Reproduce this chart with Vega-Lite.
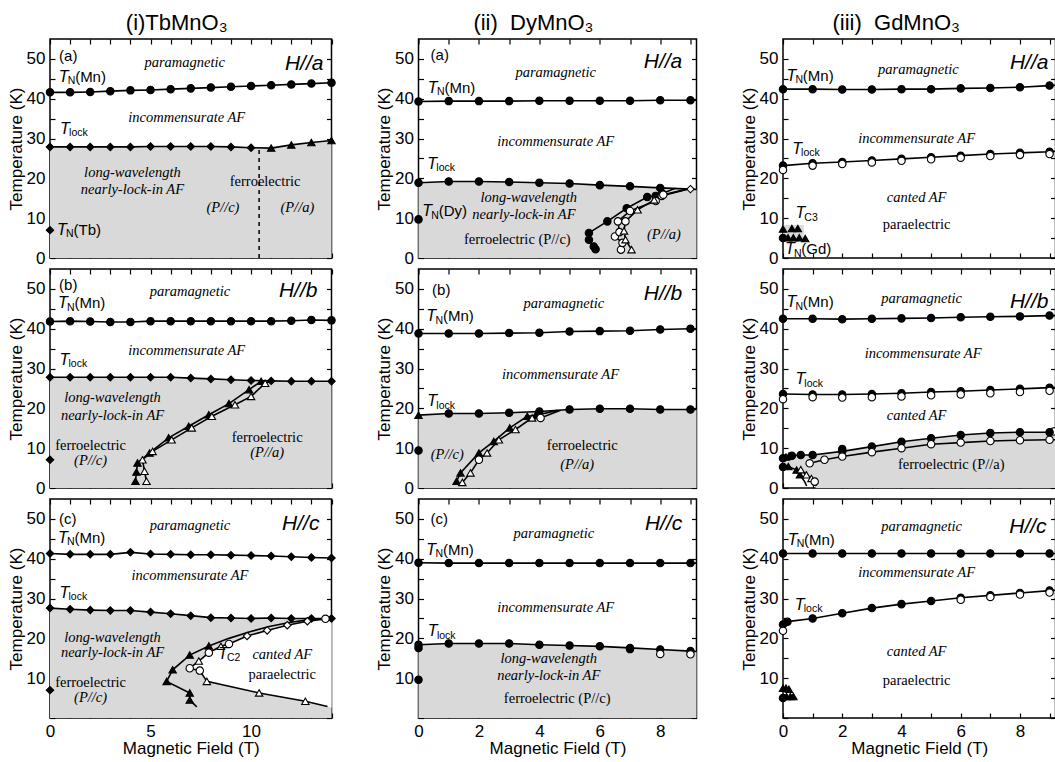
{
"$schema":"https://vega.github.io/schema/vega-lite/v6.json",
"padding":{"left":6,"top":11,"right":0,"bottom":0},
"background":"white",
"datasets":{
"L":[
{"p":"Ta","s":"TN","x":0,"y":41.6,"m":"c"},{"p":"Ta","s":"TN","x":1,"y":41.6,"m":"c"},{"p":"Ta","s":"TN","x":2,"y":41.7,"m":"c"},{"p":"Ta","s":"TN","x":3,"y":41.9,"m":"c"},{"p":"Ta","s":"TN","x":4,"y":42.1,"m":"c"},{"p":"Ta","s":"TN","x":5,"y":42.2,"m":"c"},{"p":"Ta","s":"TN","x":6,"y":42.4,"m":"c"},{"p":"Ta","s":"TN","x":7,"y":42.6,"m":"c"},{"p":"Ta","s":"TN","x":8,"y":42.8,"m":"c"},{"p":"Ta","s":"TN","x":9,"y":43.0,"m":"c"},{"p":"Ta","s":"TN","x":10,"y":43.2,"m":"c"},{"p":"Ta","s":"TN","x":11,"y":43.4,"m":"c"},{"p":"Ta","s":"TN","x":12,"y":43.6,"m":"c"},{"p":"Ta","s":"TN","x":13,"y":43.8,"m":"c"},{"p":"Ta","s":"TN","x":14,"y":44.0,"m":"c"},
{"p":"Ta","s":"TL","x":0,"y":27.9,"m":"d"},{"p":"Ta","s":"TL","x":1,"y":27.9,"m":"d"},{"p":"Ta","s":"TL","x":2,"y":27.9,"m":"d"},{"p":"Ta","s":"TL","x":3,"y":27.9,"m":"d"},{"p":"Ta","s":"TL","x":4,"y":27.9,"m":"d"},{"p":"Ta","s":"TL","x":5,"y":28.0,"m":"d"},{"p":"Ta","s":"TL","x":6,"y":28.0,"m":"d"},{"p":"Ta","s":"TL","x":7,"y":28.0,"m":"d"},{"p":"Ta","s":"TL","x":8,"y":28.0,"m":"d"},{"p":"Ta","s":"TL","x":9,"y":27.9,"m":"d"},{"p":"Ta","s":"TL","x":10,"y":27.7,"m":"d"},{"p":"Ta","s":"TL","x":11,"y":27.6,"m":"t"},{"p":"Ta","s":"TL","x":12,"y":28.4,"m":"t"},{"p":"Ta","s":"TL","x":13,"y":29.0,"m":"t"},{"p":"Ta","s":"TL","x":14,"y":29.5,"m":"t"},
{"p":"Ta","s":"pt","x":0,"y":7.0,"m":"d"},
{"p":"Tb","s":"TN","x":0,"y":41.8,"m":"c"},{"p":"Tb","s":"TN","x":1,"y":41.9,"m":"c"},{"p":"Tb","s":"TN","x":2,"y":41.8,"m":"c"},{"p":"Tb","s":"TN","x":3,"y":41.7,"m":"c"},{"p":"Tb","s":"TN","x":4,"y":41.7,"m":"c"},{"p":"Tb","s":"TN","x":5,"y":41.9,"m":"c"},{"p":"Tb","s":"TN","x":6,"y":41.9,"m":"c"},{"p":"Tb","s":"TN","x":7,"y":41.9,"m":"c"},{"p":"Tb","s":"TN","x":8,"y":41.9,"m":"c"},{"p":"Tb","s":"TN","x":9,"y":41.9,"m":"c"},{"p":"Tb","s":"TN","x":10,"y":41.9,"m":"c"},{"p":"Tb","s":"TN","x":11,"y":41.9,"m":"c"},{"p":"Tb","s":"TN","x":12,"y":42.0,"m":"c"},{"p":"Tb","s":"TN","x":13,"y":42.2,"m":"c"},{"p":"Tb","s":"TN","x":14,"y":42.1,"m":"c"},
{"p":"Tb","s":"TL","x":0,"y":27.8,"m":"d"},{"p":"Tb","s":"TL","x":1,"y":27.8,"m":"d"},{"p":"Tb","s":"TL","x":2,"y":27.8,"m":"d"},{"p":"Tb","s":"TL","x":3,"y":27.8,"m":"d"},{"p":"Tb","s":"TL","x":4,"y":27.8,"m":"d"},{"p":"Tb","s":"TL","x":5,"y":27.8,"m":"d"},{"p":"Tb","s":"TL","x":6,"y":27.8,"m":"d"},{"p":"Tb","s":"TL","x":7,"y":27.6,"m":"d"},{"p":"Tb","s":"TL","x":8,"y":27.4,"m":"d"},{"p":"Tb","s":"TL","x":9,"y":27.2,"m":"d"},{"p":"Tb","s":"TL","x":10,"y":27.0,"m":"d"},{"p":"Tb","s":"TL","x":11,"y":26.9,"m":"d"},{"p":"Tb","s":"TL","x":12,"y":26.8,"m":"d"},{"p":"Tb","s":"TL","x":13,"y":26.8,"m":"d"},{"p":"Tb","s":"TL","x":14,"y":26.8,"m":"d"},
{"p":"Tb","s":"pt","x":0,"y":7.1,"m":"d"},
{"p":"Tb","s":"f1","x":4.25,"y":1.7,"m":"t"},{"p":"Tb","s":"f1","x":4.3,"y":4.0,"m":"t"},{"p":"Tb","s":"f1","x":4.35,"y":6.3,"m":"t"},{"p":"Tb","s":"f1","x":4.95,"y":8.8,"m":"t"},{"p":"Tb","s":"f1","x":5.9,"y":12.6,"m":"t"},{"p":"Tb","s":"f1","x":6.9,"y":15.5,"m":"t"},{"p":"Tb","s":"f1","x":7.9,"y":18.4,"m":"t"},{"p":"Tb","s":"f1","x":8.9,"y":21.2,"m":"t"},{"p":"Tb","s":"f1","x":9.9,"y":24.7,"m":"t"},{"p":"Tb","s":"f1","x":10.5,"y":26.8,"m":"t"},
{"p":"Tb","s":"f2","x":4.8,"y":1.7,"m":"ot"},{"p":"Tb","s":"f2","x":4.7,"y":4.2,"m":"ot"},{"p":"Tb","s":"f2","x":4.6,"y":7.1,"m":"ot"},{"p":"Tb","s":"f2","x":5.1,"y":9.2,"m":"ot"},{"p":"Tb","s":"f2","x":6.05,"y":12.1,"m":"ot"},{"p":"Tb","s":"f2","x":7.05,"y":15.1,"m":"ot"},{"p":"Tb","s":"f2","x":8.05,"y":18.0,"m":"ot"},{"p":"Tb","s":"f2","x":9.2,"y":20.9,"m":"ot"},{"p":"Tb","s":"f2","x":10.0,"y":23.0,"m":"ot"},{"p":"Tb","s":"f2","x":10.7,"y":26.3,"m":"ot"},{"p":"Tb","s":"f2","x":11.0,"y":26.9,"m":"n"},
{"p":"Tc","s":"TN","x":0,"y":41.3,"m":"d"},{"p":"Tc","s":"TN","x":1,"y":41.1,"m":"d"},{"p":"Tc","s":"TN","x":2,"y":41.1,"m":"d"},{"p":"Tc","s":"TN","x":3,"y":41.1,"m":"d"},{"p":"Tc","s":"TN","x":4,"y":41.6,"m":"d"},{"p":"Tc","s":"TN","x":5,"y":41.2,"m":"d"},{"p":"Tc","s":"TN","x":6,"y":41.1,"m":"d"},{"p":"Tc","s":"TN","x":7,"y":41.0,"m":"d"},{"p":"Tc","s":"TN","x":8,"y":41.0,"m":"d"},{"p":"Tc","s":"TN","x":9,"y":40.9,"m":"d"},{"p":"Tc","s":"TN","x":10,"y":40.8,"m":"d"},{"p":"Tc","s":"TN","x":11,"y":40.7,"m":"d"},{"p":"Tc","s":"TN","x":12,"y":40.5,"m":"d"},{"p":"Tc","s":"TN","x":13,"y":40.3,"m":"d"},{"p":"Tc","s":"TN","x":14,"y":40.2,"m":"d"},
{"p":"Tc","s":"TL","x":0,"y":27.6,"m":"d"},{"p":"Tc","s":"TL","x":1,"y":27.3,"m":"d"},{"p":"Tc","s":"TL","x":2,"y":27.1,"m":"d"},{"p":"Tc","s":"TL","x":3,"y":27.0,"m":"d"},{"p":"Tc","s":"TL","x":4,"y":27.0,"m":"d"},{"p":"Tc","s":"TL","x":5,"y":26.6,"m":"d"},{"p":"Tc","s":"TL","x":6,"y":26.2,"m":"d"},{"p":"Tc","s":"TL","x":7,"y":25.7,"m":"d"},{"p":"Tc","s":"TL","x":8,"y":25.2,"m":"d"},{"p":"Tc","s":"TL","x":9,"y":25.1,"m":"d"},{"p":"Tc","s":"TL","x":10,"y":25.0,"m":"d"},{"p":"Tc","s":"TL","x":11,"y":25.1,"m":"d"},{"p":"Tc","s":"TL","x":12,"y":25.0,"m":"d"},{"p":"Tc","s":"TL","x":13,"y":25.0,"m":"d"},{"p":"Tc","s":"TL","x":14,"y":25.0,"m":"d"},
{"p":"Tc","s":"pt","x":0,"y":7.0,"m":"d"},
{"p":"Tc","s":"c1","x":7.3,"y":2.8,"m":"n"},{"p":"Tc","s":"c1","x":6.95,"y":4.5,"m":"t"},{"p":"Tc","s":"c1","x":6.95,"y":6.3,"m":"t"},{"p":"Tc","s":"c1","x":5.8,"y":9.2,"m":"t"},{"p":"Tc","s":"c1","x":6.1,"y":12.1,"m":"t"},{"p":"Tc","s":"c1","x":6.95,"y":15.8,"m":"t"},{"p":"Tc","s":"c1","x":7.9,"y":18.1,"m":"t"},{"p":"Tc","s":"c1","x":8.9,"y":20.0,"m":"n"},{"p":"Tc","s":"c1","x":9.9,"y":21.6,"m":"n"},{"p":"Tc","s":"c1","x":10.9,"y":23.0,"m":"n"},{"p":"Tc","s":"c1","x":11.9,"y":24.0,"m":"n"},{"p":"Tc","s":"c1","x":12.9,"y":24.7,"m":"n"},{"p":"Tc","s":"c1","x":14,"y":25.1,"m":"n"},
{"p":"Tc","s":"c2","x":13.7,"y":24.9,"m":"oc"},{"p":"Tc","s":"c2","x":12.8,"y":24.3,"m":"od"},{"p":"Tc","s":"c2","x":11.8,"y":23.3,"m":"od"},{"p":"Tc","s":"c2","x":10.8,"y":22.0,"m":"od"},{"p":"Tc","s":"c2","x":9.8,"y":20.6,"m":"od"},{"p":"Tc","s":"c2","x":8.9,"y":18.6,"m":"oc"},{"p":"Tc","s":"c2","x":8.5,"y":18.0,"m":"ot"},{"p":"Tc","s":"c2","x":7.9,"y":16.4,"m":"oc"},{"p":"Tc","s":"c2","x":7.4,"y":14.3,"m":"ot"},{"p":"Tc","s":"c2","x":6.95,"y":12.5,"m":"oc"},{"p":"Tc","s":"c2","x":7.45,"y":11.9,"m":"oc"},{"p":"Tc","s":"c2","x":7.8,"y":9.2,"m":"ot"},{"p":"Tc","s":"c2","x":10.4,"y":6.3,"m":"ot"},{"p":"Tc","s":"c2","x":12.7,"y":4.2,"m":"ot"},{"p":"Tc","s":"c2","x":13.8,"y":2.9,"m":"n"},
{"p":"Da","s":"TN","x":0,"y":39.3,"m":"c"},{"p":"Da","s":"TN","x":1,"y":39.4,"m":"c"},{"p":"Da","s":"TN","x":2,"y":39.4,"m":"c"},{"p":"Da","s":"TN","x":3,"y":39.4,"m":"c"},{"p":"Da","s":"TN","x":4,"y":39.5,"m":"c"},{"p":"Da","s":"TN","x":5,"y":39.5,"m":"c"},{"p":"Da","s":"TN","x":6,"y":39.5,"m":"c"},{"p":"Da","s":"TN","x":7,"y":39.5,"m":"c"},{"p":"Da","s":"TN","x":8,"y":39.6,"m":"c"},{"p":"Da","s":"TN","x":9,"y":39.6,"m":"c"},{"p":"Da","s":"TN","x":9.2,"y":39.6,"m":"n"},
{"p":"Da","s":"TL","x":0,"y":18.9,"m":"c"},{"p":"Da","s":"TL","x":1,"y":19.2,"m":"c"},{"p":"Da","s":"TL","x":2,"y":19.2,"m":"c"},{"p":"Da","s":"TL","x":3,"y":19.1,"m":"c"},{"p":"Da","s":"TL","x":4,"y":18.9,"m":"c"},{"p":"Da","s":"TL","x":5,"y":18.7,"m":"c"},{"p":"Da","s":"TL","x":6,"y":18.3,"m":"c"},{"p":"Da","s":"TL","x":7,"y":18.0,"m":"c"},{"p":"Da","s":"TL","x":8,"y":17.6,"m":"c"},{"p":"Da","s":"TL","x":9,"y":17.3,"m":"od"},{"p":"Da","s":"TL","x":9.2,"y":17.2,"m":"n"},
{"p":"Da","s":"pt","x":0,"y":9.7,"m":"c"},
{"p":"Da","s":"f1","x":5.86,"y":2.2,"m":"c"},{"p":"Da","s":"f1","x":5.8,"y":2.9,"m":"c"},{"p":"Da","s":"f1","x":5.64,"y":4.6,"m":"c"},{"p":"Da","s":"f1","x":5.64,"y":6.3,"m":"c"},{"p":"Da","s":"f1","x":6.25,"y":9.2,"m":"c"},{"p":"Da","s":"f1","x":6.89,"y":12.5,"m":"c"},{"p":"Da","s":"f1","x":7.57,"y":15.3,"m":"c"},{"p":"Da","s":"f1","x":7.85,"y":15.6,"m":"c"},{"p":"Da","s":"f1","x":8.07,"y":16.2,"m":"c"},{"p":"Da","s":"f1","x":8.5,"y":17.5,"m":"n"},
{"p":"Da","s":"o1","x":6.7,"y":2.1,"m":"oc"},{"p":"Da","s":"o1","x":6.75,"y":3.8,"m":"oc"},{"p":"Da","s":"o1","x":6.5,"y":5.4,"m":"oc"},{"p":"Da","s":"o1","x":6.65,"y":6.5,"m":"oc"},{"p":"Da","s":"o1","x":6.6,"y":9.2,"m":"oc"},{"p":"Da","s":"o1","x":7.0,"y":11.8,"m":"oc"},{"p":"Da","s":"o1","x":7.85,"y":14.3,"m":"oc"},{"p":"Da","s":"o1","x":8.05,"y":15.6,"m":"oc"},{"p":"Da","s":"o1","x":8.9,"y":17.3,"m":"n"},
{"p":"Da","s":"o2","x":7.05,"y":2.1,"m":"ot"},{"p":"Da","s":"o2","x":6.85,"y":4.6,"m":"ot"},{"p":"Da","s":"o2","x":6.8,"y":6.8,"m":"ot"},{"p":"Da","s":"o2","x":6.85,"y":9.2,"m":"oc"},{"p":"Da","s":"o2","x":7.25,"y":12.1,"m":"ot"},{"p":"Da","s":"o2","x":7.8,"y":14.6,"m":"ot"},{"p":"Da","s":"o2","x":8.1,"y":15.9,"m":"oc"},{"p":"Da","s":"o2","x":8.9,"y":17.3,"m":"n"},
{"p":"Db","s":"TN","x":0,"y":38.8,"m":"c"},{"p":"Db","s":"TN","x":1,"y":38.8,"m":"c"},{"p":"Db","s":"TN","x":2,"y":38.8,"m":"c"},{"p":"Db","s":"TN","x":3,"y":38.9,"m":"c"},{"p":"Db","s":"TN","x":4,"y":39.0,"m":"c"},{"p":"Db","s":"TN","x":5,"y":39.3,"m":"c"},{"p":"Db","s":"TN","x":6,"y":39.4,"m":"c"},{"p":"Db","s":"TN","x":7,"y":39.5,"m":"c"},{"p":"Db","s":"TN","x":8,"y":39.8,"m":"c"},{"p":"Db","s":"TN","x":9,"y":40.0,"m":"c"},{"p":"Db","s":"TN","x":9.2,"y":40.0,"m":"n"},
{"p":"Db","s":"TL","x":0,"y":18.3,"m":"t"},{"p":"Db","s":"TL","x":1,"y":18.7,"m":"c"},{"p":"Db","s":"TL","x":2,"y":18.7,"m":"c"},{"p":"Db","s":"TL","x":3,"y":18.9,"m":"c"},{"p":"Db","s":"TL","x":4,"y":19.2,"m":"c"},{"p":"Db","s":"TL","x":5,"y":19.7,"m":"c"},{"p":"Db","s":"TL","x":6,"y":19.9,"m":"c"},{"p":"Db","s":"TL","x":7,"y":19.9,"m":"c"},{"p":"Db","s":"TL","x":8,"y":19.7,"m":"c"},{"p":"Db","s":"TL","x":9,"y":19.7,"m":"c"},{"p":"Db","s":"TL","x":9.2,"y":19.7,"m":"n"},
{"p":"Db","s":"pt","x":0,"y":9.4,"m":"c"},
{"p":"Db","s":"f1","x":1.26,"y":1.7,"m":"t"},{"p":"Db","s":"f1","x":1.39,"y":3.8,"m":"t"},{"p":"Db","s":"f1","x":2.0,"y":8.8,"m":"t"},{"p":"Db","s":"f1","x":2.49,"y":11.7,"m":"t"},{"p":"Db","s":"f1","x":3.02,"y":15.1,"m":"t"},{"p":"Db","s":"f1","x":3.6,"y":18.0,"m":"t"},{"p":"Db","s":"f1","x":3.87,"y":18.2,"m":"t"},{"p":"Db","s":"f1","x":4.6,"y":19.5,"m":"n"},
{"p":"Db","s":"o1","x":1.45,"y":1.4,"m":"ot"},{"p":"Db","s":"o1","x":1.72,"y":3.8,"m":"ot"},{"p":"Db","s":"o1","x":2.0,"y":7.1,"m":"oc"},{"p":"Db","s":"o1","x":2.27,"y":8.8,"m":"ot"},{"p":"Db","s":"o1","x":2.66,"y":12.1,"m":"ot"},{"p":"Db","s":"o1","x":3.21,"y":14.7,"m":"ot"},{"p":"Db","s":"o1","x":3.76,"y":17.6,"m":"ot"},{"p":"Db","s":"o1","x":4.04,"y":17.6,"m":"oc"},{"p":"Db","s":"o1","x":4.7,"y":19.5,"m":"n"},
{"p":"Dc","s":"TN","x":0,"y":39.0,"m":"c"},{"p":"Dc","s":"TN","x":1,"y":38.9,"m":"c"},{"p":"Dc","s":"TN","x":2,"y":38.9,"m":"c"},{"p":"Dc","s":"TN","x":3,"y":38.9,"m":"c"},{"p":"Dc","s":"TN","x":4,"y":38.9,"m":"c"},{"p":"Dc","s":"TN","x":5,"y":38.9,"m":"c"},{"p":"Dc","s":"TN","x":6,"y":38.9,"m":"c"},{"p":"Dc","s":"TN","x":7,"y":38.9,"m":"c"},{"p":"Dc","s":"TN","x":8,"y":38.9,"m":"c"},{"p":"Dc","s":"TN","x":9,"y":38.9,"m":"c"},{"p":"Dc","s":"TN","x":9.2,"y":38.9,"m":"n"},
{"p":"Dc","s":"TL","x":0,"y":18.4,"m":"c"},{"p":"Dc","s":"TL","x":1,"y":18.7,"m":"c"},{"p":"Dc","s":"TL","x":2,"y":18.7,"m":"c"},{"p":"Dc","s":"TL","x":3,"y":18.7,"m":"c"},{"p":"Dc","s":"TL","x":4,"y":18.4,"m":"c"},{"p":"Dc","s":"TL","x":5,"y":18.2,"m":"c"},{"p":"Dc","s":"TL","x":6,"y":18.0,"m":"c"},{"p":"Dc","s":"TL","x":7,"y":17.6,"m":"c"},{"p":"Dc","s":"TL","x":8,"y":17.2,"m":"c"},{"p":"Dc","s":"TL","x":9,"y":16.8,"m":"c"},{"p":"Dc","s":"TL","x":9.2,"y":16.7,"m":"n"},
{"p":"Dc","s":"pt","x":0,"y":9.6,"m":"c"},{"p":"Dc","s":"pt","x":0,"y":17.6,"m":"c"},{"p":"Dc","s":"pt","x":8,"y":16.1,"m":"oc"},{"p":"Dc","s":"pt","x":9,"y":16.0,"m":"oc"},{"p":"Dc","s":"pt","x":7,"y":17.3,"m":"c"},
{"p":"Ga","s":"TN","x":0,"y":42.4,"m":"c"},{"p":"Ga","s":"TN","x":1,"y":42.4,"m":"c"},{"p":"Ga","s":"TN","x":2,"y":42.3,"m":"c"},{"p":"Ga","s":"TN","x":3,"y":42.3,"m":"c"},{"p":"Ga","s":"TN","x":4,"y":42.4,"m":"c"},{"p":"Ga","s":"TN","x":5,"y":42.4,"m":"c"},{"p":"Ga","s":"TN","x":6,"y":42.6,"m":"c"},{"p":"Ga","s":"TN","x":7,"y":42.7,"m":"c"},{"p":"Ga","s":"TN","x":8,"y":42.9,"m":"c"},{"p":"Ga","s":"TN","x":9,"y":43.3,"m":"c"},{"p":"Ga","s":"TN","x":9.2,"y":43.4,"m":"n"},
{"p":"Ga","s":"TL","x":0,"y":23.2,"m":"c"},{"p":"Ga","s":"TL","x":1,"y":23.8,"m":"c"},{"p":"Ga","s":"TL","x":2,"y":24.1,"m":"c"},{"p":"Ga","s":"TL","x":3,"y":24.5,"m":"c"},{"p":"Ga","s":"TL","x":4,"y":24.9,"m":"c"},{"p":"Ga","s":"TL","x":5,"y":25.3,"m":"c"},{"p":"Ga","s":"TL","x":6,"y":25.7,"m":"c"},{"p":"Ga","s":"TL","x":7,"y":26.1,"m":"c"},{"p":"Ga","s":"TL","x":8,"y":26.4,"m":"c"},{"p":"Ga","s":"TL","x":9,"y":26.7,"m":"c"},{"p":"Ga","s":"TL","x":9.2,"y":26.8,"m":"n"},
{"p":"Ga","s":"pt","x":0,"y":22.1,"m":"oc"},{"p":"Ga","s":"pt","x":1,"y":23.2,"m":"oc"},{"p":"Ga","s":"pt","x":2,"y":23.6,"m":"oc"},{"p":"Ga","s":"pt","x":3,"y":24.0,"m":"oc"},{"p":"Ga","s":"pt","x":4,"y":24.4,"m":"oc"},{"p":"Ga","s":"pt","x":5,"y":24.8,"m":"oc"},{"p":"Ga","s":"pt","x":6,"y":25.2,"m":"oc"},{"p":"Ga","s":"pt","x":7,"y":25.6,"m":"oc"},{"p":"Ga","s":"pt","x":8,"y":25.9,"m":"oc"},{"p":"Ga","s":"pt","x":9,"y":26.1,"m":"oc"},
{"p":"Ga","s":"pt","x":0,"y":7.3,"m":"t"},{"p":"Ga","s":"pt","x":0.3,"y":7.4,"m":"t"},{"p":"Ga","s":"pt","x":0.5,"y":7.4,"m":"t"},{"p":"Ga","s":"pt","x":0,"y":5.0,"m":"c"},{"p":"Ga","s":"pt","x":0.17,"y":5.1,"m":"t"},{"p":"Ga","s":"pt","x":0.35,"y":5.1,"m":"t"},{"p":"Ga","s":"pt","x":0.55,"y":5.1,"m":"t"},{"p":"Ga","s":"pt","x":0.75,"y":4.9,"m":"t"},
{"p":"Gb","s":"TN","x":0,"y":42.5,"m":"c"},{"p":"Gb","s":"TN","x":1,"y":42.5,"m":"c"},{"p":"Gb","s":"TN","x":2,"y":42.4,"m":"c"},{"p":"Gb","s":"TN","x":3,"y":42.5,"m":"c"},{"p":"Gb","s":"TN","x":4,"y":42.6,"m":"c"},{"p":"Gb","s":"TN","x":5,"y":42.7,"m":"c"},{"p":"Gb","s":"TN","x":6,"y":42.9,"m":"c"},{"p":"Gb","s":"TN","x":7,"y":43.0,"m":"c"},{"p":"Gb","s":"TN","x":8,"y":43.1,"m":"c"},{"p":"Gb","s":"TN","x":9,"y":43.3,"m":"c"},{"p":"Gb","s":"TN","x":9.2,"y":43.3,"m":"n"},
{"p":"Gb","s":"TL","x":0,"y":23.6,"m":"c"},{"p":"Gb","s":"TL","x":1,"y":23.5,"m":"c"},{"p":"Gb","s":"TL","x":2,"y":23.5,"m":"c"},{"p":"Gb","s":"TL","x":3,"y":23.6,"m":"c"},{"p":"Gb","s":"TL","x":4,"y":23.8,"m":"c"},{"p":"Gb","s":"TL","x":5,"y":24.1,"m":"c"},{"p":"Gb","s":"TL","x":6,"y":24.3,"m":"c"},{"p":"Gb","s":"TL","x":7,"y":24.6,"m":"c"},{"p":"Gb","s":"TL","x":8,"y":24.9,"m":"c"},{"p":"Gb","s":"TL","x":9,"y":25.2,"m":"c"},{"p":"Gb","s":"TL","x":9.2,"y":25.2,"m":"n"},
{"p":"Gb","s":"pt","x":0,"y":22.3,"m":"oc"},{"p":"Gb","s":"pt","x":1,"y":22.8,"m":"oc"},{"p":"Gb","s":"pt","x":2,"y":22.7,"m":"oc"},{"p":"Gb","s":"pt","x":3,"y":22.8,"m":"oc"},{"p":"Gb","s":"pt","x":4,"y":23.0,"m":"oc"},{"p":"Gb","s":"pt","x":5,"y":23.3,"m":"oc"},{"p":"Gb","s":"pt","x":6,"y":23.5,"m":"oc"},{"p":"Gb","s":"pt","x":7,"y":23.8,"m":"oc"},{"p":"Gb","s":"pt","x":8,"y":24.1,"m":"oc"},{"p":"Gb","s":"pt","x":9,"y":24.4,"m":"oc"},
{"p":"Gb","s":"pt","x":0.1,"y":7.8,"m":"t"},{"p":"Gb","s":"pt","x":0.2,"y":8.0,"m":"t"},{"p":"Gb","s":"pt","x":2.0,"y":9.8,"m":"c"},{"p":"Gb","s":"pt","x":9.15,"y":14.2,"m":"oc"},
{"p":"Gb","s":"u1","x":0,"y":7.5,"m":"c"},{"p":"Gb","s":"u1","x":0.3,"y":8.1,"m":"c"},{"p":"Gb","s":"u1","x":0.6,"y":8.3,"m":"c"},{"p":"Gb","s":"u1","x":1.0,"y":8.3,"m":"c"},{"p":"Gb","s":"u1","x":2.0,"y":9.2,"m":"c"},{"p":"Gb","s":"u1","x":3.0,"y":10.4,"m":"c"},{"p":"Gb","s":"u1","x":4.0,"y":11.6,"m":"c"},{"p":"Gb","s":"u1","x":5.0,"y":12.5,"m":"c"},{"p":"Gb","s":"u1","x":6.0,"y":13.3,"m":"c"},{"p":"Gb","s":"u1","x":7.0,"y":13.8,"m":"c"},{"p":"Gb","s":"u1","x":8.0,"y":14.0,"m":"c"},{"p":"Gb","s":"u1","x":9.0,"y":14.0,"m":"c"},{"p":"Gb","s":"u1","x":9.2,"y":14.0,"m":"n"},
{"p":"Gb","s":"l1","x":0.9,"y":6.2,"m":"oc"},{"p":"Gb","s":"l1","x":1.4,"y":7.1,"m":"oc"},{"p":"Gb","s":"l1","x":2.0,"y":7.9,"m":"oc"},{"p":"Gb","s":"l1","x":3.0,"y":9.0,"m":"oc"},{"p":"Gb","s":"l1","x":4.0,"y":10.0,"m":"oc"},{"p":"Gb","s":"l1","x":5.0,"y":11.0,"m":"oc"},{"p":"Gb","s":"l1","x":6.0,"y":11.4,"m":"oc"},{"p":"Gb","s":"l1","x":7.0,"y":11.8,"m":"oc"},{"p":"Gb","s":"l1","x":8.0,"y":12.0,"m":"oc"},{"p":"Gb","s":"l1","x":9.0,"y":12.1,"m":"oc"},{"p":"Gb","s":"l1","x":9.2,"y":12.1,"m":"n"},
{"p":"Gb","s":"lf1","x":0,"y":5.3,"m":"c"},{"p":"Gb","s":"lf1","x":0.18,"y":5.4,"m":"t"},{"p":"Gb","s":"lf1","x":0.46,"y":4.5,"m":"t"},{"p":"Gb","s":"lf1","x":0.57,"y":3.3,"m":"t"},{"p":"Gb","s":"lf1","x":0.73,"y":1.6,"m":"n"},{"p":"Gb","s":"lf1","x":0.8,"y":0.5,"m":"n"},
{"p":"Gb","s":"lf2","x":0.6,"y":4.6,"m":"ot"},{"p":"Gb","s":"lf2","x":0.79,"y":3.3,"m":"ot"},{"p":"Gb","s":"lf2","x":0.96,"y":2.4,"m":"ot"},{"p":"Gb","s":"lf2","x":1.07,"y":1.6,"m":"oc"},{"p":"Gb","s":"lf2","x":1.12,"y":0.5,"m":"n"},
{"p":"Gc","s":"TN","x":0,"y":41.3,"m":"c"},{"p":"Gc","s":"TN","x":1,"y":41.3,"m":"c"},{"p":"Gc","s":"TN","x":2,"y":41.3,"m":"c"},{"p":"Gc","s":"TN","x":3,"y":41.3,"m":"c"},{"p":"Gc","s":"TN","x":4,"y":41.3,"m":"c"},{"p":"Gc","s":"TN","x":5,"y":41.3,"m":"c"},{"p":"Gc","s":"TN","x":6,"y":41.3,"m":"c"},{"p":"Gc","s":"TN","x":7,"y":41.3,"m":"c"},{"p":"Gc","s":"TN","x":8,"y":41.3,"m":"c"},{"p":"Gc","s":"TN","x":9,"y":41.3,"m":"c"},{"p":"Gc","s":"TN","x":9.2,"y":41.3,"m":"n"},
{"p":"Gc","s":"TL","x":0,"y":23.5,"m":"c"},{"p":"Gc","s":"TL","x":0.15,"y":24.2,"m":"c"},{"p":"Gc","s":"TL","x":1,"y":25.0,"m":"c"},{"p":"Gc","s":"TL","x":2,"y":26.3,"m":"c"},{"p":"Gc","s":"TL","x":3,"y":27.6,"m":"c"},{"p":"Gc","s":"TL","x":4,"y":28.6,"m":"c"},{"p":"Gc","s":"TL","x":5,"y":29.4,"m":"c"},{"p":"Gc","s":"TL","x":6,"y":30.2,"m":"c"},{"p":"Gc","s":"TL","x":7,"y":30.8,"m":"c"},{"p":"Gc","s":"TL","x":8,"y":31.4,"m":"c"},{"p":"Gc","s":"TL","x":9,"y":32.0,"m":"c"},{"p":"Gc","s":"TL","x":9.2,"y":32.1,"m":"n"},
{"p":"Gc","s":"pt","x":0,"y":21.9,"m":"oc"},{"p":"Gc","s":"pt","x":6,"y":29.7,"m":"oc"},{"p":"Gc","s":"pt","x":7,"y":30.4,"m":"oc"},{"p":"Gc","s":"pt","x":8,"y":31.0,"m":"oc"},{"p":"Gc","s":"pt","x":9,"y":31.5,"m":"oc"},
{"p":"Gc","s":"pt","x":0,"y":7.5,"m":"t"},{"p":"Gc","s":"pt","x":0.1,"y":7.5,"m":"t"},{"p":"Gc","s":"pt","x":0.2,"y":7.2,"m":"t"},{"p":"Gc","s":"pt","x":0,"y":5.0,"m":"c"},{"p":"Gc","s":"pt","x":0.12,"y":5.4,"m":"t"},{"p":"Gc","s":"pt","x":0.25,"y":5.4,"m":"t"},{"p":"Gc","s":"pt","x":0.35,"y":5.4,"m":"t"}
],
"A":[
{"p":"Tc","c":"w","x":6.95,"y":12.5,"y2":12.5},{"p":"Tc","c":"w","x":7.4,"y":14.3,"y2":12.0},{"p":"Tc","c":"w","x":7.8,"y":16.0,"y2":9.2},{"p":"Tc","c":"w","x":8.5,"y":18.0,"y2":8.4},{"p":"Tc","c":"w","x":8.9,"y":18.6,"y2":8.0},{"p":"Tc","c":"w","x":9.8,"y":20.6,"y2":7.0},{"p":"Tc","c":"w","x":10.4,"y":21.4,"y2":6.3},{"p":"Tc","c":"w","x":10.8,"y":22.0,"y2":6.0},{"p":"Tc","c":"w","x":11.8,"y":23.3,"y2":5.1},{"p":"Tc","c":"w","x":12.7,"y":24.2,"y2":4.2},{"p":"Tc","c":"w","x":13.7,"y":24.9,"y2":3.0},{"p":"Tc","c":"w","x":14,"y":25.0,"y2":2.6},
{"p":"Ga","c":"g","x":0,"y":8.3,"y2":4.2},{"p":"Ga","c":"g","x":0.7,"y":8.3,"y2":4.2},
{"p":"Gb","c":"g","x":0,"y":7.5,"y2":5.3},{"p":"Gb","c":"g","x":0.3,"y":8.1,"y2":5.1},{"p":"Gb","c":"g","x":0.6,"y":8.3,"y2":4.3},{"p":"Gb","c":"g","x":0.85,"y":8.3,"y2":2.3},{"p":"Gb","c":"g","x":1.12,"y":8.4,"y2":0},{"p":"Gb","c":"g","x":2,"y":9.2,"y2":0},{"p":"Gb","c":"g","x":3,"y":10.4,"y2":0},{"p":"Gb","c":"g","x":4,"y":11.6,"y2":0},{"p":"Gb","c":"g","x":5,"y":12.5,"y2":0},{"p":"Gb","c":"g","x":6,"y":13.3,"y2":0},{"p":"Gb","c":"g","x":7,"y":13.8,"y2":0},{"p":"Gb","c":"g","x":8,"y":14.0,"y2":0},{"p":"Gb","c":"g","x":9,"y":14.0,"y2":0},{"p":"Gb","c":"g","x":9.2,"y":14.0,"y2":0}
],
"R":[{"p":"Ta","x":10.4,"y":0,"y2":27.7}],
"T":[
{"p":"Ta","k":"lab","x":0.45,"y":50.8,"t":"(a)"},{"p":"Ta","k":"ph","x":6.7,"y":49.0,"t":"paramagnetic"},{"p":"Ta","k":"hh","x":13.6,"y":48.7,"t":"H//a"},{"p":"Ta","k":"tt","x":0.43,"y":45.5,"t":"T"},{"p":"Ta","k":"sub","x":0.88,"y":44.4,"t":"N"},{"p":"Ta","k":"lab","x":1.25,"y":45.5,"t":"(Mn)"},{"p":"Ta","k":"ph","x":6.8,"y":35.2,"t":"incommensurate AF"},{"p":"Ta","k":"tt","x":0.5,"y":32.4,"t":"T"},{"p":"Ta","k":"sub","x":0.95,"y":31.3,"t":"lock"},{"p":"Ta","k":"ph","x":4.1,"y":21.4,"t":"long-wavelength"},{"p":"Ta","k":"ph","x":4.1,"y":17.1,"t":"nearly-lock-in AF"},{"p":"Ta","k":"rm","x":10.7,"y":19.1,"t":"ferroelectric"},{"p":"Ta","k":"ph","x":8.6,"y":12.6,"t":"(P//c)"},{"p":"Ta","k":"ph","x":12.3,"y":12.6,"t":"(P//a)"},{"p":"Ta","k":"tt","x":0.35,"y":7.1,"t":"T"},{"p":"Ta","k":"sub","x":0.8,"y":6.0,"t":"N"},{"p":"Ta","k":"lab","x":1.17,"y":7.1,"t":"(Tb)"},
{"p":"Tb","k":"lab","x":0.45,"y":51.0,"t":"(b)"},{"p":"Tb","k":"ph","x":6.96,"y":49.2,"t":"paramagnetic"},{"p":"Tb","k":"hh","x":13.3,"y":49.6,"t":"H//b"},{"p":"Tb","k":"tt","x":0.4,"y":46.4,"t":"T"},{"p":"Tb","k":"sub","x":0.85,"y":45.3,"t":"N"},{"p":"Tb","k":"lab","x":1.22,"y":46.4,"t":"(Mn)"},{"p":"Tb","k":"ph","x":6.8,"y":34.5,"t":"incommensurate AF"},{"p":"Tb","k":"tt","x":0.47,"y":32.2,"t":"T"},{"p":"Tb","k":"sub","x":0.92,"y":31.1,"t":"lock"},{"p":"Tb","k":"ph","x":3.11,"y":22.6,"t":"long-wavelength"},{"p":"Tb","k":"ph","x":3.11,"y":18.2,"t":"nearly-lock-in AF"},{"p":"Tb","k":"rm","x":2.02,"y":10.5,"t":"ferroelectric"},{"p":"Tb","k":"ph","x":2.02,"y":6.7,"t":"(P//c)"},{"p":"Tb","k":"rm","x":10.8,"y":12.6,"t":"ferroelectric"},{"p":"Tb","k":"ph","x":10.8,"y":8.8,"t":"(P//a)"},
{"p":"Tc","k":"lab","x":0.45,"y":50.0,"t":"(c)"},{"p":"Tc","k":"ph","x":6.96,"y":48.2,"t":"paramagnetic"},{"p":"Tc","k":"hh","x":13.4,"y":48.6,"t":"H//c"},{"p":"Tc","k":"tt","x":0.4,"y":45.2,"t":"T"},{"p":"Tc","k":"sub","x":0.85,"y":44.1,"t":"N"},{"p":"Tc","k":"lab","x":1.22,"y":45.2,"t":"(Mn)"},{"p":"Tc","k":"ph","x":6.96,"y":35.6,"t":"incommensurate AF"},{"p":"Tc","k":"tt","x":0.47,"y":31.4,"t":"T"},{"p":"Tc","k":"sub","x":0.92,"y":30.3,"t":"lock"},{"p":"Tc","k":"ph","x":3.11,"y":20.1,"t":"long-wavelength"},{"p":"Tc","k":"ph","x":3.11,"y":16.4,"t":"nearly-lock-in AF"},{"p":"Tc","k":"rm","x":2.02,"y":8.8,"t":"ferroelectric"},{"p":"Tc","k":"ph","x":2.02,"y":5.0,"t":"(P//c)"},{"p":"Tc","k":"ph","x":11.55,"y":15.9,"t":"canted AF"},{"p":"Tc","k":"rm","x":11.55,"y":10.9,"t":"paraelectric"},{"p":"Tc","k":"tt","x":8.35,"y":16.1,"t":"T"},{"p":"Tc","k":"sub","x":8.8,"y":15.0,"t":"C2"},
{"p":"Da","k":"lab","x":0.4,"y":51.0,"t":"(a)"},{"p":"Da","k":"ph","x":4.54,"y":46.4,"t":"paramagnetic"},{"p":"Da","k":"hh","x":8.73,"y":49.1,"t":"H//a"},{"p":"Da","k":"tt","x":0.31,"y":42.8,"t":"T"},{"p":"Da","k":"sub","x":0.61,"y":41.7,"t":"N"},{"p":"Da","k":"lab","x":0.86,"y":42.8,"t":"(Mn)"},{"p":"Da","k":"ph","x":4.54,"y":29.1,"t":"incommensurate AF"},{"p":"Da","k":"tt","x":0.29,"y":23.6,"t":"T"},{"p":"Da","k":"sub","x":0.59,"y":22.5,"t":"lock"},{"p":"Da","k":"ph","x":3.65,"y":15.1,"t":"long-wavelength"},{"p":"Da","k":"ph","x":3.49,"y":10.9,"t":"nearly-lock-in AF"},{"p":"Da","k":"rm","x":3.27,"y":4.6,"t":"ferroelectric (P//c)"},{"p":"Da","k":"ph","x":8.12,"y":5.8,"t":"(P//a)"},{"p":"Da","k":"tt","x":0.12,"y":11.7,"t":"T"},{"p":"Da","k":"sub","x":0.42,"y":10.6,"t":"N"},{"p":"Da","k":"lab","x":0.67,"y":11.7,"t":"(Dy)"},
{"p":"Db","k":"lab","x":0.45,"y":49.8,"t":"(b)"},{"p":"Db","k":"ph","x":4.81,"y":46.1,"t":"paramagnetic"},{"p":"Db","k":"hh","x":8.73,"y":48.6,"t":"H//b"},{"p":"Db","k":"tt","x":0.26,"y":43.1,"t":"T"},{"p":"Db","k":"sub","x":0.56,"y":42.0,"t":"N"},{"p":"Db","k":"lab","x":0.81,"y":43.1,"t":"(Mn)"},{"p":"Db","k":"ph","x":4.7,"y":28.5,"t":"incommensurate AF"},{"p":"Db","k":"tt","x":0.29,"y":21.8,"t":"T"},{"p":"Db","k":"sub","x":0.59,"y":20.7,"t":"lock"},{"p":"Db","k":"rm","x":5.42,"y":10.6,"t":"ferroelectric"},{"p":"Db","k":"ph","x":5.25,"y":5.9,"t":"(P//a)"},{"p":"Db","k":"ph","x":0.95,"y":8.4,"t":"(P//c)"},
{"p":"Dc","k":"lab","x":0.4,"y":50.0,"t":"(c)"},{"p":"Dc","k":"ph","x":4.48,"y":46.1,"t":"paramagnetic"},{"p":"Dc","k":"hh","x":8.73,"y":48.6,"t":"H//c"},{"p":"Dc","k":"tt","x":0.26,"y":42.3,"t":"T"},{"p":"Dc","k":"sub","x":0.56,"y":41.2,"t":"N"},{"p":"Dc","k":"lab","x":0.81,"y":42.3,"t":"(Mn)"},{"p":"Dc","k":"ph","x":4.54,"y":27.6,"t":"incommensurate AF"},{"p":"Dc","k":"tt","x":0.31,"y":21.8,"t":"T"},{"p":"Dc","k":"sub","x":0.61,"y":20.7,"t":"lock"},{"p":"Dc","k":"ph","x":4.31,"y":14.8,"t":"long-wavelength"},{"p":"Dc","k":"ph","x":4.31,"y":10.6,"t":"nearly-lock-in AF"},{"p":"Dc","k":"rm","x":4.59,"y":4.7,"t":"ferroelectric (P//c)"},
{"p":"Ga","k":"ph","x":4.57,"y":47.1,"t":"paramagnetic"},{"p":"Ga","k":"hh","x":8.96,"y":48.9,"t":"H//a"},{"p":"Ga","k":"tt","x":0.12,"y":45.8,"t":"T"},{"p":"Ga","k":"sub","x":0.42,"y":44.7,"t":"N"},{"p":"Ga","k":"lab","x":0.67,"y":45.8,"t":"(Mn)"},{"p":"Ga","k":"ph","x":4.51,"y":29.8,"t":"incommensurate AF"},{"p":"Ga","k":"tt","x":0.31,"y":27.5,"t":"T"},{"p":"Ga","k":"sub","x":0.61,"y":26.4,"t":"lock"},{"p":"Ga","k":"ph","x":4.51,"y":15.0,"t":"canted AF"},{"p":"Ga","k":"rm","x":4.51,"y":8.3,"t":"paraelectric"},{"p":"Ga","k":"tt","x":0.42,"y":11.2,"t":"T"},{"p":"Ga","k":"sub","x":0.72,"y":10.1,"t":"C3"},{"p":"Ga","k":"tt","x":0.07,"y":2.2,"t":"T"},{"p":"Ga","k":"sub","x":0.37,"y":1.1,"t":"N"},{"p":"Ga","k":"lab","x":0.62,"y":2.2,"t":"(Gd)"},
{"p":"Gb","k":"ph","x":4.68,"y":47.5,"t":"paramagnetic"},{"p":"Gb","k":"hh","x":8.96,"y":46.6,"t":"H//b"},{"p":"Gb","k":"tt","x":0.12,"y":46.6,"t":"T"},{"p":"Gb","k":"sub","x":0.42,"y":45.5,"t":"N"},{"p":"Gb","k":"lab","x":0.67,"y":46.6,"t":"(Mn)"},{"p":"Gb","k":"ph","x":4.73,"y":33.6,"t":"incommensurate AF"},{"p":"Gb","k":"tt","x":0.42,"y":27.3,"t":"T"},{"p":"Gb","k":"sub","x":0.72,"y":26.2,"t":"lock"},{"p":"Gb","k":"ph","x":4.51,"y":18.0,"t":"canted AF"},{"p":"Gb","k":"rm","x":5.68,"y":5.8,"t":"ferroelectric (P//a)"},
{"p":"Gc","k":"ph","x":4.68,"y":48.0,"t":"paramagnetic"},{"p":"Gc","k":"hh","x":8.9,"y":48.0,"t":"H//c"},{"p":"Gc","k":"tt","x":0.16,"y":44.7,"t":"T"},{"p":"Gc","k":"sub","x":0.46,"y":43.6,"t":"N"},{"p":"Gc","k":"lab","x":0.71,"y":44.7,"t":"(Mn)"},{"p":"Gc","k":"ph","x":4.51,"y":36.5,"t":"incommensurate AF"},{"p":"Gc","k":"tt","x":0.4,"y":28.4,"t":"T"},{"p":"Gc","k":"sub","x":0.7,"y":27.3,"t":"lock"},{"p":"Gc","k":"ph","x":4.51,"y":16.5,"t":"canted AF"},{"p":"Gc","k":"rm","x":4.51,"y":9.4,"t":"paraelectric"}
]
},
"concat":[
{"width":281.5,"height":219,"title":{"text":"(i)TbMnO₃","dx":-14},
"layer":[
{"data":{"name":"L"},"transform":[{"filter":"datum.p=='Ta'&&datum.s=='TL'"}],"mark":{"type":"area","color":"#d9d9d9","opacity":1},"encoding":{"x":{"field":"x","type":"quantitative","scale":{"domain":[0,14],"nice":false,"zero":false},"axis":null},"y":{"field":"y","type":"quantitative","scale":{"domain":[0,55],"nice":false,"zero":false},"axis":null},"y2":{"datum":0}}},
{"data":{"name":"R"},"transform":[{"filter":"datum.p=='Ta'"}],"mark":{"type":"rule","strokeDash":[4,4],"strokeWidth":1.5,"color":"black"},"encoding":{"x":{"field":"x","type":"quantitative","axis":null},"y":{"field":"y","type":"quantitative","axis":null},"y2":{"field":"y2"}}},
{"data":{"name":"L"},"transform":[{"filter":"datum.p=='Ta'&&datum.s!='pt'"}],"mark":{"type":"line","color":"black","strokeWidth":1.6},"encoding":{"x":{"field":"x","type":"quantitative","scale":{"domain":[0,14],"nice":false,"zero":false},"axis":{"orient":"bottom","values":[0,1,2,3,4,5,6,7,8,9,10,11,12,13,14],"labels":false,"title":null}},"y":{"field":"y","type":"quantitative","scale":{"domain":[0,55],"nice":false,"zero":false},"axis":{"orient":"left","values":[0,5,10,15,20,25,30,35,40,45,50],"labelExpr":"datum.value%10==0?datum.label:''","title":"Temperature (K)"}},"detail":{"field":"s"},"order":{"value":null}}},
{"data":{"name":"L"},"transform":[{"filter":"datum.p=='Ta'&&datum.m!='n'"}],"mark":{"type":"point","filled":true,"stroke":"black","strokeWidth":1.1,"size":55,"opacity":1},"encoding":{"x":{"field":"x","type":"quantitative","scale":{"domain":[0,14],"nice":false,"zero":false},"axis":{"orient":"top","values":[0,1,2,3,4,5,6,7,8,9,10,11,12,13,14],"labels":false,"title":null}},"y":{"field":"y","type":"quantitative","scale":{"domain":[0,55],"nice":false,"zero":false},"axis":{"orient":"right","values":[0,5,10,15,20,25,30,35,40,45,50],"labels":false,"title":null}},"shape":{"field":"m","type":"nominal","scale":{"domain":["c","t","d","oc","ot","od"],"range":["circle","triangle-up","diamond","circle","triangle-up","diamond"]},"legend":null},"fill":{"field":"m","type":"nominal","scale":{"domain":["c","t","d","oc","ot","od"],"range":["#000000","#000000","#000000","#ffffff","#ffffff","#ffffff"]},"legend":null}}},
{"data":{"name":"T"},"transform":[{"filter":"datum.p=='Ta'&&datum.k=='ph'"}],"mark":{"type":"text","font":"Liberation Serif","fontStyle":"italic","fontSize":14.5,"align":"center","baseline":"middle"},"encoding":{"x":{"field":"x","type":"quantitative","axis":null},"y":{"field":"y","type":"quantitative","axis":null},"text":{"field":"t"}}},
{"data":{"name":"T"},"transform":[{"filter":"datum.p=='Ta'&&datum.k=='rm'"}],"mark":{"type":"text","font":"Liberation Serif","fontSize":14.5,"align":"center","baseline":"middle"},"encoding":{"x":{"field":"x","type":"quantitative","axis":null},"y":{"field":"y","type":"quantitative","axis":null},"text":{"field":"t"}}},
{"data":{"name":"T"},"transform":[{"filter":"datum.p=='Ta'&&datum.k=='lab'"}],"mark":{"type":"text","font":"Liberation Sans","fontSize":15,"align":"left","baseline":"middle"},"encoding":{"x":{"field":"x","type":"quantitative","axis":null},"y":{"field":"y","type":"quantitative","axis":null},"text":{"field":"t"}}},
{"data":{"name":"T"},"transform":[{"filter":"datum.p=='Ta'&&datum.k=='tt'"}],"mark":{"type":"text","font":"Liberation Sans","fontStyle":"italic","fontSize":16,"align":"left","baseline":"middle"},"encoding":{"x":{"field":"x","type":"quantitative","axis":null},"y":{"field":"y","type":"quantitative","axis":null},"text":{"field":"t"}}},
{"data":{"name":"T"},"transform":[{"filter":"datum.p=='Ta'&&datum.k=='sub'"}],"mark":{"type":"text","font":"Liberation Sans","fontSize":10.5,"align":"left","baseline":"middle"},"encoding":{"x":{"field":"x","type":"quantitative","axis":null},"y":{"field":"y","type":"quantitative","axis":null},"text":{"field":"t"}}},
{"data":{"name":"T"},"transform":[{"filter":"datum.p=='Ta'&&datum.k=='hh'"}],"mark":{"type":"text","font":"Liberation Sans","fontStyle":"italic","fontSize":21,"align":"right","baseline":"middle"},"encoding":{"x":{"field":"x","type":"quantitative","axis":null},"y":{"field":"y","type":"quantitative","axis":null},"text":{"field":"t"}}}
],"resolve":{"axis":{"x":"independent","y":"independent"}}},
{"width":278,"height":219,"title":{"text":"(ii)\u00a0\u00a0DyMnO₃","dx":-24},
"layer":[
{"data":{"name":"L"},"transform":[{"filter":"datum.p=='Da'&&datum.s=='TL'"}],"mark":{"type":"area","color":"#d9d9d9","opacity":1},"encoding":{"x":{"field":"x","type":"quantitative","scale":{"domain":[0,9.2],"nice":false,"zero":false},"axis":null},"y":{"field":"y","type":"quantitative","scale":{"domain":[0,55],"nice":false,"zero":false},"axis":null},"y2":{"datum":0}}},
{"data":{"name":"L"},"transform":[{"filter":"datum.p=='Da'&&datum.s!='pt'"}],"mark":{"type":"line","color":"black","strokeWidth":1.6},"encoding":{"x":{"field":"x","type":"quantitative","scale":{"domain":[0,9.2],"nice":false,"zero":false},"axis":{"orient":"bottom","values":[0,1,2,3,4,5,6,7,8,9],"labels":false,"title":null}},"y":{"field":"y","type":"quantitative","scale":{"domain":[0,55],"nice":false,"zero":false},"axis":{"orient":"left","values":[0,5,10,15,20,25,30,35,40,45,50],"labelExpr":"datum.value%10==0?datum.label:''","title":"Temperature (K)"}},"detail":{"field":"s"},"order":{"value":null}}},
{"data":{"name":"L"},"transform":[{"filter":"datum.p=='Da'&&datum.m!='n'"}],"mark":{"type":"point","filled":true,"stroke":"black","strokeWidth":1.1,"size":55,"opacity":1},"encoding":{"x":{"field":"x","type":"quantitative","scale":{"domain":[0,9.2],"nice":false,"zero":false},"axis":{"orient":"top","values":[0,1,2,3,4,5,6,7,8,9],"labels":false,"title":null}},"y":{"field":"y","type":"quantitative","scale":{"domain":[0,55],"nice":false,"zero":false},"axis":{"orient":"right","values":[0,5,10,15,20,25,30,35,40,45,50],"labels":false,"title":null}},"shape":{"field":"m","type":"nominal","scale":{"domain":["c","t","d","oc","ot","od"],"range":["circle","triangle-up","diamond","circle","triangle-up","diamond"]},"legend":null},"fill":{"field":"m","type":"nominal","scale":{"domain":["c","t","d","oc","ot","od"],"range":["#000000","#000000","#000000","#ffffff","#ffffff","#ffffff"]},"legend":null}}},
{"data":{"name":"T"},"transform":[{"filter":"datum.p=='Da'&&datum.k=='ph'"}],"mark":{"type":"text","font":"Liberation Serif","fontStyle":"italic","fontSize":14.5,"align":"center","baseline":"middle"},"encoding":{"x":{"field":"x","type":"quantitative","axis":null},"y":{"field":"y","type":"quantitative","axis":null},"text":{"field":"t"}}},
{"data":{"name":"T"},"transform":[{"filter":"datum.p=='Da'&&datum.k=='rm'"}],"mark":{"type":"text","font":"Liberation Serif","fontSize":14.5,"align":"center","baseline":"middle"},"encoding":{"x":{"field":"x","type":"quantitative","axis":null},"y":{"field":"y","type":"quantitative","axis":null},"text":{"field":"t"}}},
{"data":{"name":"T"},"transform":[{"filter":"datum.p=='Da'&&datum.k=='lab'"}],"mark":{"type":"text","font":"Liberation Sans","fontSize":15,"align":"left","baseline":"middle"},"encoding":{"x":{"field":"x","type":"quantitative","axis":null},"y":{"field":"y","type":"quantitative","axis":null},"text":{"field":"t"}}},
{"data":{"name":"T"},"transform":[{"filter":"datum.p=='Da'&&datum.k=='tt'"}],"mark":{"type":"text","font":"Liberation Sans","fontStyle":"italic","fontSize":16,"align":"left","baseline":"middle"},"encoding":{"x":{"field":"x","type":"quantitative","axis":null},"y":{"field":"y","type":"quantitative","axis":null},"text":{"field":"t"}}},
{"data":{"name":"T"},"transform":[{"filter":"datum.p=='Da'&&datum.k=='sub'"}],"mark":{"type":"text","font":"Liberation Sans","fontSize":10.5,"align":"left","baseline":"middle"},"encoding":{"x":{"field":"x","type":"quantitative","axis":null},"y":{"field":"y","type":"quantitative","axis":null},"text":{"field":"t"}}},
{"data":{"name":"T"},"transform":[{"filter":"datum.p=='Da'&&datum.k=='hh'"}],"mark":{"type":"text","font":"Liberation Sans","fontStyle":"italic","fontSize":21,"align":"right","baseline":"middle"},"encoding":{"x":{"field":"x","type":"quantitative","axis":null},"y":{"field":"y","type":"quantitative","axis":null},"text":{"field":"t"}}}
],"resolve":{"axis":{"x":"independent","y":"independent"}}},
{"width":272.5,"height":219,"title":{"text":"(iii)\u00a0\u00a0GdMnO₃","dx":-23},
"layer":[
{"data":{"name":"A"},"transform":[{"filter":"datum.p=='Ga'"}],"mark":{"type":"area","opacity":1},"encoding":{"x":{"field":"x","type":"quantitative","scale":{"domain":[0,9.2],"nice":false,"zero":false},"axis":null},"y":{"field":"y","type":"quantitative","scale":{"domain":[0,55],"nice":false,"zero":false},"axis":null},"y2":{"field":"y2"},"color":{"field":"c","type":"nominal","scale":{"domain":["g","w"],"range":["#d9d9d9","#ffffff"]},"legend":null}}},
{"data":{"name":"L"},"transform":[{"filter":"datum.p=='Ga'&&datum.s!='pt'"}],"mark":{"type":"line","color":"black","strokeWidth":1.6},"encoding":{"x":{"field":"x","type":"quantitative","scale":{"domain":[0,9.2],"nice":false,"zero":false},"axis":{"orient":"bottom","values":[0,1,2,3,4,5,6,7,8,9],"labels":false,"title":null}},"y":{"field":"y","type":"quantitative","scale":{"domain":[0,55],"nice":false,"zero":false},"axis":{"orient":"left","values":[0,5,10,15,20,25,30,35,40,45,50],"labelExpr":"datum.value%10==0?datum.label:''","title":"Temperature (K)"}},"detail":{"field":"s"},"order":{"value":null}}},
{"data":{"name":"L"},"transform":[{"filter":"datum.p=='Ga'&&datum.m!='n'"}],"mark":{"type":"point","filled":true,"stroke":"black","strokeWidth":1.1,"size":55,"opacity":1},"encoding":{"x":{"field":"x","type":"quantitative","scale":{"domain":[0,9.2],"nice":false,"zero":false},"axis":{"orient":"top","values":[0,1,2,3,4,5,6,7,8,9],"labels":false,"title":null}},"y":{"field":"y","type":"quantitative","scale":{"domain":[0,55],"nice":false,"zero":false},"axis":{"orient":"right","values":[0,5,10,15,20,25,30,35,40,45,50],"labels":false,"title":null}},"shape":{"field":"m","type":"nominal","scale":{"domain":["c","t","d","oc","ot","od"],"range":["circle","triangle-up","diamond","circle","triangle-up","diamond"]},"legend":null},"fill":{"field":"m","type":"nominal","scale":{"domain":["c","t","d","oc","ot","od"],"range":["#000000","#000000","#000000","#ffffff","#ffffff","#ffffff"]},"legend":null}}},
{"data":{"name":"T"},"transform":[{"filter":"datum.p=='Ga'&&datum.k=='ph'"}],"mark":{"type":"text","font":"Liberation Serif","fontStyle":"italic","fontSize":14.5,"align":"center","baseline":"middle"},"encoding":{"x":{"field":"x","type":"quantitative","axis":null},"y":{"field":"y","type":"quantitative","axis":null},"text":{"field":"t"}}},
{"data":{"name":"T"},"transform":[{"filter":"datum.p=='Ga'&&datum.k=='rm'"}],"mark":{"type":"text","font":"Liberation Serif","fontSize":14.5,"align":"center","baseline":"middle"},"encoding":{"x":{"field":"x","type":"quantitative","axis":null},"y":{"field":"y","type":"quantitative","axis":null},"text":{"field":"t"}}},
{"data":{"name":"T"},"transform":[{"filter":"datum.p=='Ga'&&datum.k=='lab'"}],"mark":{"type":"text","font":"Liberation Sans","fontSize":15,"align":"left","baseline":"middle"},"encoding":{"x":{"field":"x","type":"quantitative","axis":null},"y":{"field":"y","type":"quantitative","axis":null},"text":{"field":"t"}}},
{"data":{"name":"T"},"transform":[{"filter":"datum.p=='Ga'&&datum.k=='tt'"}],"mark":{"type":"text","font":"Liberation Sans","fontStyle":"italic","fontSize":16,"align":"left","baseline":"middle"},"encoding":{"x":{"field":"x","type":"quantitative","axis":null},"y":{"field":"y","type":"quantitative","axis":null},"text":{"field":"t"}}},
{"data":{"name":"T"},"transform":[{"filter":"datum.p=='Ga'&&datum.k=='sub'"}],"mark":{"type":"text","font":"Liberation Sans","fontSize":10.5,"align":"left","baseline":"middle"},"encoding":{"x":{"field":"x","type":"quantitative","axis":null},"y":{"field":"y","type":"quantitative","axis":null},"text":{"field":"t"}}},
{"data":{"name":"T"},"transform":[{"filter":"datum.p=='Ga'&&datum.k=='hh'"}],"mark":{"type":"text","font":"Liberation Sans","fontStyle":"italic","fontSize":21,"align":"right","baseline":"middle"},"encoding":{"x":{"field":"x","type":"quantitative","axis":null},"y":{"field":"y","type":"quantitative","axis":null},"text":{"field":"t"}}}
],"resolve":{"axis":{"x":"independent","y":"independent"}}},
{"width":281.5,"height":219,
"layer":[
{"data":{"name":"L"},"transform":[{"filter":"datum.p=='Tb'&&datum.s=='TL'"}],"mark":{"type":"area","color":"#d9d9d9","opacity":1},"encoding":{"x":{"field":"x","type":"quantitative","scale":{"domain":[0,14],"nice":false,"zero":false},"axis":null},"y":{"field":"y","type":"quantitative","scale":{"domain":[0,55],"nice":false,"zero":false},"axis":null},"y2":{"datum":0}}},
{"data":{"name":"L"},"transform":[{"filter":"datum.p=='Tb'&&datum.s!='pt'"}],"mark":{"type":"line","color":"black","strokeWidth":1.6},"encoding":{"x":{"field":"x","type":"quantitative","scale":{"domain":[0,14],"nice":false,"zero":false},"axis":{"orient":"bottom","values":[0,1,2,3,4,5,6,7,8,9,10,11,12,13,14],"labels":false,"title":null}},"y":{"field":"y","type":"quantitative","scale":{"domain":[0,55],"nice":false,"zero":false},"axis":{"orient":"left","values":[0,5,10,15,20,25,30,35,40,45,50],"labelExpr":"datum.value%10==0?datum.label:''","title":"Temperature (K)"}},"detail":{"field":"s"},"order":{"value":null}}},
{"data":{"name":"L"},"transform":[{"filter":"datum.p=='Tb'&&datum.m!='n'"}],"mark":{"type":"point","filled":true,"stroke":"black","strokeWidth":1.1,"size":55,"opacity":1},"encoding":{"x":{"field":"x","type":"quantitative","scale":{"domain":[0,14],"nice":false,"zero":false},"axis":{"orient":"top","values":[0,1,2,3,4,5,6,7,8,9,10,11,12,13,14],"labels":false,"title":null}},"y":{"field":"y","type":"quantitative","scale":{"domain":[0,55],"nice":false,"zero":false},"axis":{"orient":"right","values":[0,5,10,15,20,25,30,35,40,45,50],"labels":false,"title":null}},"shape":{"field":"m","type":"nominal","scale":{"domain":["c","t","d","oc","ot","od"],"range":["circle","triangle-up","diamond","circle","triangle-up","diamond"]},"legend":null},"fill":{"field":"m","type":"nominal","scale":{"domain":["c","t","d","oc","ot","od"],"range":["#000000","#000000","#000000","#ffffff","#ffffff","#ffffff"]},"legend":null}}},
{"data":{"name":"T"},"transform":[{"filter":"datum.p=='Tb'&&datum.k=='ph'"}],"mark":{"type":"text","font":"Liberation Serif","fontStyle":"italic","fontSize":14.5,"align":"center","baseline":"middle"},"encoding":{"x":{"field":"x","type":"quantitative","axis":null},"y":{"field":"y","type":"quantitative","axis":null},"text":{"field":"t"}}},
{"data":{"name":"T"},"transform":[{"filter":"datum.p=='Tb'&&datum.k=='rm'"}],"mark":{"type":"text","font":"Liberation Serif","fontSize":14.5,"align":"center","baseline":"middle"},"encoding":{"x":{"field":"x","type":"quantitative","axis":null},"y":{"field":"y","type":"quantitative","axis":null},"text":{"field":"t"}}},
{"data":{"name":"T"},"transform":[{"filter":"datum.p=='Tb'&&datum.k=='lab'"}],"mark":{"type":"text","font":"Liberation Sans","fontSize":15,"align":"left","baseline":"middle"},"encoding":{"x":{"field":"x","type":"quantitative","axis":null},"y":{"field":"y","type":"quantitative","axis":null},"text":{"field":"t"}}},
{"data":{"name":"T"},"transform":[{"filter":"datum.p=='Tb'&&datum.k=='tt'"}],"mark":{"type":"text","font":"Liberation Sans","fontStyle":"italic","fontSize":16,"align":"left","baseline":"middle"},"encoding":{"x":{"field":"x","type":"quantitative","axis":null},"y":{"field":"y","type":"quantitative","axis":null},"text":{"field":"t"}}},
{"data":{"name":"T"},"transform":[{"filter":"datum.p=='Tb'&&datum.k=='sub'"}],"mark":{"type":"text","font":"Liberation Sans","fontSize":10.5,"align":"left","baseline":"middle"},"encoding":{"x":{"field":"x","type":"quantitative","axis":null},"y":{"field":"y","type":"quantitative","axis":null},"text":{"field":"t"}}},
{"data":{"name":"T"},"transform":[{"filter":"datum.p=='Tb'&&datum.k=='hh'"}],"mark":{"type":"text","font":"Liberation Sans","fontStyle":"italic","fontSize":21,"align":"right","baseline":"middle"},"encoding":{"x":{"field":"x","type":"quantitative","axis":null},"y":{"field":"y","type":"quantitative","axis":null},"text":{"field":"t"}}}
],"resolve":{"axis":{"x":"independent","y":"independent"}}},
{"width":278,"height":219,
"layer":[
{"data":{"name":"L"},"transform":[{"filter":"datum.p=='Db'&&datum.s=='TL'"}],"mark":{"type":"area","color":"#d9d9d9","opacity":1},"encoding":{"x":{"field":"x","type":"quantitative","scale":{"domain":[0,9.2],"nice":false,"zero":false},"axis":null},"y":{"field":"y","type":"quantitative","scale":{"domain":[0,55],"nice":false,"zero":false},"axis":null},"y2":{"datum":0}}},
{"data":{"name":"L"},"transform":[{"filter":"datum.p=='Db'&&datum.s!='pt'"}],"mark":{"type":"line","color":"black","strokeWidth":1.6},"encoding":{"x":{"field":"x","type":"quantitative","scale":{"domain":[0,9.2],"nice":false,"zero":false},"axis":{"orient":"bottom","values":[0,1,2,3,4,5,6,7,8,9],"labels":false,"title":null}},"y":{"field":"y","type":"quantitative","scale":{"domain":[0,55],"nice":false,"zero":false},"axis":{"orient":"left","values":[0,5,10,15,20,25,30,35,40,45,50],"labelExpr":"datum.value%10==0?datum.label:''","title":"Temperature (K)"}},"detail":{"field":"s"},"order":{"value":null}}},
{"data":{"name":"L"},"transform":[{"filter":"datum.p=='Db'&&datum.m!='n'"}],"mark":{"type":"point","filled":true,"stroke":"black","strokeWidth":1.1,"size":55,"opacity":1},"encoding":{"x":{"field":"x","type":"quantitative","scale":{"domain":[0,9.2],"nice":false,"zero":false},"axis":{"orient":"top","values":[0,1,2,3,4,5,6,7,8,9],"labels":false,"title":null}},"y":{"field":"y","type":"quantitative","scale":{"domain":[0,55],"nice":false,"zero":false},"axis":{"orient":"right","values":[0,5,10,15,20,25,30,35,40,45,50],"labels":false,"title":null}},"shape":{"field":"m","type":"nominal","scale":{"domain":["c","t","d","oc","ot","od"],"range":["circle","triangle-up","diamond","circle","triangle-up","diamond"]},"legend":null},"fill":{"field":"m","type":"nominal","scale":{"domain":["c","t","d","oc","ot","od"],"range":["#000000","#000000","#000000","#ffffff","#ffffff","#ffffff"]},"legend":null}}},
{"data":{"name":"T"},"transform":[{"filter":"datum.p=='Db'&&datum.k=='ph'"}],"mark":{"type":"text","font":"Liberation Serif","fontStyle":"italic","fontSize":14.5,"align":"center","baseline":"middle"},"encoding":{"x":{"field":"x","type":"quantitative","axis":null},"y":{"field":"y","type":"quantitative","axis":null},"text":{"field":"t"}}},
{"data":{"name":"T"},"transform":[{"filter":"datum.p=='Db'&&datum.k=='rm'"}],"mark":{"type":"text","font":"Liberation Serif","fontSize":14.5,"align":"center","baseline":"middle"},"encoding":{"x":{"field":"x","type":"quantitative","axis":null},"y":{"field":"y","type":"quantitative","axis":null},"text":{"field":"t"}}},
{"data":{"name":"T"},"transform":[{"filter":"datum.p=='Db'&&datum.k=='lab'"}],"mark":{"type":"text","font":"Liberation Sans","fontSize":15,"align":"left","baseline":"middle"},"encoding":{"x":{"field":"x","type":"quantitative","axis":null},"y":{"field":"y","type":"quantitative","axis":null},"text":{"field":"t"}}},
{"data":{"name":"T"},"transform":[{"filter":"datum.p=='Db'&&datum.k=='tt'"}],"mark":{"type":"text","font":"Liberation Sans","fontStyle":"italic","fontSize":16,"align":"left","baseline":"middle"},"encoding":{"x":{"field":"x","type":"quantitative","axis":null},"y":{"field":"y","type":"quantitative","axis":null},"text":{"field":"t"}}},
{"data":{"name":"T"},"transform":[{"filter":"datum.p=='Db'&&datum.k=='sub'"}],"mark":{"type":"text","font":"Liberation Sans","fontSize":10.5,"align":"left","baseline":"middle"},"encoding":{"x":{"field":"x","type":"quantitative","axis":null},"y":{"field":"y","type":"quantitative","axis":null},"text":{"field":"t"}}},
{"data":{"name":"T"},"transform":[{"filter":"datum.p=='Db'&&datum.k=='hh'"}],"mark":{"type":"text","font":"Liberation Sans","fontStyle":"italic","fontSize":21,"align":"right","baseline":"middle"},"encoding":{"x":{"field":"x","type":"quantitative","axis":null},"y":{"field":"y","type":"quantitative","axis":null},"text":{"field":"t"}}}
],"resolve":{"axis":{"x":"independent","y":"independent"}}},
{"width":272.5,"height":219,
"layer":[
{"data":{"name":"A"},"transform":[{"filter":"datum.p=='Gb'"}],"mark":{"type":"area","opacity":1},"encoding":{"x":{"field":"x","type":"quantitative","scale":{"domain":[0,9.2],"nice":false,"zero":false},"axis":null},"y":{"field":"y","type":"quantitative","scale":{"domain":[0,55],"nice":false,"zero":false},"axis":null},"y2":{"field":"y2"},"color":{"field":"c","type":"nominal","scale":{"domain":["g","w"],"range":["#d9d9d9","#ffffff"]},"legend":null}}},
{"data":{"name":"L"},"transform":[{"filter":"datum.p=='Gb'&&datum.s!='pt'"}],"mark":{"type":"line","color":"black","strokeWidth":1.6},"encoding":{"x":{"field":"x","type":"quantitative","scale":{"domain":[0,9.2],"nice":false,"zero":false},"axis":{"orient":"bottom","values":[0,1,2,3,4,5,6,7,8,9],"labels":false,"title":null}},"y":{"field":"y","type":"quantitative","scale":{"domain":[0,55],"nice":false,"zero":false},"axis":{"orient":"left","values":[0,5,10,15,20,25,30,35,40,45,50],"labelExpr":"datum.value%10==0?datum.label:''","title":"Temperature (K)"}},"detail":{"field":"s"},"order":{"value":null}}},
{"data":{"name":"L"},"transform":[{"filter":"datum.p=='Gb'&&datum.m!='n'"}],"mark":{"type":"point","filled":true,"stroke":"black","strokeWidth":1.1,"size":55,"opacity":1},"encoding":{"x":{"field":"x","type":"quantitative","scale":{"domain":[0,9.2],"nice":false,"zero":false},"axis":{"orient":"top","values":[0,1,2,3,4,5,6,7,8,9],"labels":false,"title":null}},"y":{"field":"y","type":"quantitative","scale":{"domain":[0,55],"nice":false,"zero":false},"axis":{"orient":"right","values":[0,5,10,15,20,25,30,35,40,45,50],"labels":false,"title":null}},"shape":{"field":"m","type":"nominal","scale":{"domain":["c","t","d","oc","ot","od"],"range":["circle","triangle-up","diamond","circle","triangle-up","diamond"]},"legend":null},"fill":{"field":"m","type":"nominal","scale":{"domain":["c","t","d","oc","ot","od"],"range":["#000000","#000000","#000000","#ffffff","#ffffff","#ffffff"]},"legend":null}}},
{"data":{"name":"T"},"transform":[{"filter":"datum.p=='Gb'&&datum.k=='ph'"}],"mark":{"type":"text","font":"Liberation Serif","fontStyle":"italic","fontSize":14.5,"align":"center","baseline":"middle"},"encoding":{"x":{"field":"x","type":"quantitative","axis":null},"y":{"field":"y","type":"quantitative","axis":null},"text":{"field":"t"}}},
{"data":{"name":"T"},"transform":[{"filter":"datum.p=='Gb'&&datum.k=='rm'"}],"mark":{"type":"text","font":"Liberation Serif","fontSize":14.5,"align":"center","baseline":"middle"},"encoding":{"x":{"field":"x","type":"quantitative","axis":null},"y":{"field":"y","type":"quantitative","axis":null},"text":{"field":"t"}}},
{"data":{"name":"T"},"transform":[{"filter":"datum.p=='Gb'&&datum.k=='lab'"}],"mark":{"type":"text","font":"Liberation Sans","fontSize":15,"align":"left","baseline":"middle"},"encoding":{"x":{"field":"x","type":"quantitative","axis":null},"y":{"field":"y","type":"quantitative","axis":null},"text":{"field":"t"}}},
{"data":{"name":"T"},"transform":[{"filter":"datum.p=='Gb'&&datum.k=='tt'"}],"mark":{"type":"text","font":"Liberation Sans","fontStyle":"italic","fontSize":16,"align":"left","baseline":"middle"},"encoding":{"x":{"field":"x","type":"quantitative","axis":null},"y":{"field":"y","type":"quantitative","axis":null},"text":{"field":"t"}}},
{"data":{"name":"T"},"transform":[{"filter":"datum.p=='Gb'&&datum.k=='sub'"}],"mark":{"type":"text","font":"Liberation Sans","fontSize":10.5,"align":"left","baseline":"middle"},"encoding":{"x":{"field":"x","type":"quantitative","axis":null},"y":{"field":"y","type":"quantitative","axis":null},"text":{"field":"t"}}},
{"data":{"name":"T"},"transform":[{"filter":"datum.p=='Gb'&&datum.k=='hh'"}],"mark":{"type":"text","font":"Liberation Sans","fontStyle":"italic","fontSize":21,"align":"right","baseline":"middle"},"encoding":{"x":{"field":"x","type":"quantitative","axis":null},"y":{"field":"y","type":"quantitative","axis":null},"text":{"field":"t"}}}
],"resolve":{"axis":{"x":"independent","y":"independent"}}},
{"width":281.5,"height":219,
"layer":[
{"data":{"name":"L"},"transform":[{"filter":"datum.p=='Tc'&&datum.s=='TL'"}],"mark":{"type":"area","color":"#d9d9d9","opacity":1},"encoding":{"x":{"field":"x","type":"quantitative","scale":{"domain":[0,14],"nice":false,"zero":false},"axis":null},"y":{"field":"y","type":"quantitative","scale":{"domain":[0,55],"nice":false,"zero":false},"axis":null},"y2":{"datum":0}}},
{"data":{"name":"A"},"transform":[{"filter":"datum.p=='Tc'"}],"mark":{"type":"area","opacity":1},"encoding":{"x":{"field":"x","type":"quantitative","axis":null},"y":{"field":"y","type":"quantitative","axis":null},"y2":{"field":"y2"},"color":{"field":"c","type":"nominal","scale":{"domain":["g","w"],"range":["#d9d9d9","#ffffff"]},"legend":null}}},
{"data":{"name":"L"},"transform":[{"filter":"datum.p=='Tc'&&datum.s!='pt'"}],"mark":{"type":"line","color":"black","strokeWidth":1.6},"encoding":{"x":{"field":"x","type":"quantitative","scale":{"domain":[0,14],"nice":false,"zero":false},"axis":{"orient":"bottom","values":[0,1,2,3,4,5,6,7,8,9,10,11,12,13,14],"labelExpr":"datum.value%5==0?datum.label:''","title":"Magnetic Field (T)"}},"y":{"field":"y","type":"quantitative","scale":{"domain":[0,55],"nice":false,"zero":false},"axis":{"orient":"left","values":[0,5,10,15,20,25,30,35,40,45,50],"labelExpr":"datum.value%10==0&&datum.value>0?datum.label:''","title":"Temperature (K)"}},"detail":{"field":"s"},"order":{"value":null}}},
{"data":{"name":"L"},"transform":[{"filter":"datum.p=='Tc'&&datum.m!='n'"}],"mark":{"type":"point","filled":true,"stroke":"black","strokeWidth":1.1,"size":55,"opacity":1},"encoding":{"x":{"field":"x","type":"quantitative","scale":{"domain":[0,14],"nice":false,"zero":false},"axis":{"orient":"top","values":[0,1,2,3,4,5,6,7,8,9,10,11,12,13,14],"labels":false,"title":null}},"y":{"field":"y","type":"quantitative","scale":{"domain":[0,55],"nice":false,"zero":false},"axis":{"orient":"right","values":[0,5,10,15,20,25,30,35,40,45,50],"labels":false,"title":null}},"shape":{"field":"m","type":"nominal","scale":{"domain":["c","t","d","oc","ot","od"],"range":["circle","triangle-up","diamond","circle","triangle-up","diamond"]},"legend":null},"fill":{"field":"m","type":"nominal","scale":{"domain":["c","t","d","oc","ot","od"],"range":["#000000","#000000","#000000","#ffffff","#ffffff","#ffffff"]},"legend":null}}},
{"data":{"name":"T"},"transform":[{"filter":"datum.p=='Tc'&&datum.k=='ph'"}],"mark":{"type":"text","font":"Liberation Serif","fontStyle":"italic","fontSize":14.5,"align":"center","baseline":"middle"},"encoding":{"x":{"field":"x","type":"quantitative","axis":null},"y":{"field":"y","type":"quantitative","axis":null},"text":{"field":"t"}}},
{"data":{"name":"T"},"transform":[{"filter":"datum.p=='Tc'&&datum.k=='rm'"}],"mark":{"type":"text","font":"Liberation Serif","fontSize":14.5,"align":"center","baseline":"middle"},"encoding":{"x":{"field":"x","type":"quantitative","axis":null},"y":{"field":"y","type":"quantitative","axis":null},"text":{"field":"t"}}},
{"data":{"name":"T"},"transform":[{"filter":"datum.p=='Tc'&&datum.k=='lab'"}],"mark":{"type":"text","font":"Liberation Sans","fontSize":15,"align":"left","baseline":"middle"},"encoding":{"x":{"field":"x","type":"quantitative","axis":null},"y":{"field":"y","type":"quantitative","axis":null},"text":{"field":"t"}}},
{"data":{"name":"T"},"transform":[{"filter":"datum.p=='Tc'&&datum.k=='tt'"}],"mark":{"type":"text","font":"Liberation Sans","fontStyle":"italic","fontSize":16,"align":"left","baseline":"middle"},"encoding":{"x":{"field":"x","type":"quantitative","axis":null},"y":{"field":"y","type":"quantitative","axis":null},"text":{"field":"t"}}},
{"data":{"name":"T"},"transform":[{"filter":"datum.p=='Tc'&&datum.k=='sub'"}],"mark":{"type":"text","font":"Liberation Sans","fontSize":10.5,"align":"left","baseline":"middle"},"encoding":{"x":{"field":"x","type":"quantitative","axis":null},"y":{"field":"y","type":"quantitative","axis":null},"text":{"field":"t"}}},
{"data":{"name":"T"},"transform":[{"filter":"datum.p=='Tc'&&datum.k=='hh'"}],"mark":{"type":"text","font":"Liberation Sans","fontStyle":"italic","fontSize":21,"align":"right","baseline":"middle"},"encoding":{"x":{"field":"x","type":"quantitative","axis":null},"y":{"field":"y","type":"quantitative","axis":null},"text":{"field":"t"}}}
],"resolve":{"axis":{"x":"independent","y":"independent"}}},
{"width":278,"height":219,
"layer":[
{"data":{"name":"L"},"transform":[{"filter":"datum.p=='Dc'&&datum.s=='TL'"}],"mark":{"type":"area","color":"#d9d9d9","opacity":1},"encoding":{"x":{"field":"x","type":"quantitative","scale":{"domain":[0,9.2],"nice":false,"zero":false},"axis":null},"y":{"field":"y","type":"quantitative","scale":{"domain":[0,55],"nice":false,"zero":false},"axis":null},"y2":{"datum":0}}},
{"data":{"name":"L"},"transform":[{"filter":"datum.p=='Dc'&&datum.s!='pt'"}],"mark":{"type":"line","color":"black","strokeWidth":1.6},"encoding":{"x":{"field":"x","type":"quantitative","scale":{"domain":[0,9.2],"nice":false,"zero":false},"axis":{"orient":"bottom","values":[0,1,2,3,4,5,6,7,8,9],"labelExpr":"datum.value%2==0?datum.label:''","title":"Magnetic Field (T)"}},"y":{"field":"y","type":"quantitative","scale":{"domain":[0,55],"nice":false,"zero":false},"axis":{"orient":"left","values":[0,5,10,15,20,25,30,35,40,45,50],"labelExpr":"datum.value%10==0&&datum.value>0?datum.label:''","title":"Temperature (K)"}},"detail":{"field":"s"},"order":{"value":null}}},
{"data":{"name":"L"},"transform":[{"filter":"datum.p=='Dc'&&datum.m!='n'"}],"mark":{"type":"point","filled":true,"stroke":"black","strokeWidth":1.1,"size":55,"opacity":1},"encoding":{"x":{"field":"x","type":"quantitative","scale":{"domain":[0,9.2],"nice":false,"zero":false},"axis":{"orient":"top","values":[0,1,2,3,4,5,6,7,8,9],"labels":false,"title":null}},"y":{"field":"y","type":"quantitative","scale":{"domain":[0,55],"nice":false,"zero":false},"axis":{"orient":"right","values":[0,5,10,15,20,25,30,35,40,45,50],"labels":false,"title":null}},"shape":{"field":"m","type":"nominal","scale":{"domain":["c","t","d","oc","ot","od"],"range":["circle","triangle-up","diamond","circle","triangle-up","diamond"]},"legend":null},"fill":{"field":"m","type":"nominal","scale":{"domain":["c","t","d","oc","ot","od"],"range":["#000000","#000000","#000000","#ffffff","#ffffff","#ffffff"]},"legend":null}}},
{"data":{"name":"T"},"transform":[{"filter":"datum.p=='Dc'&&datum.k=='ph'"}],"mark":{"type":"text","font":"Liberation Serif","fontStyle":"italic","fontSize":14.5,"align":"center","baseline":"middle"},"encoding":{"x":{"field":"x","type":"quantitative","axis":null},"y":{"field":"y","type":"quantitative","axis":null},"text":{"field":"t"}}},
{"data":{"name":"T"},"transform":[{"filter":"datum.p=='Dc'&&datum.k=='rm'"}],"mark":{"type":"text","font":"Liberation Serif","fontSize":14.5,"align":"center","baseline":"middle"},"encoding":{"x":{"field":"x","type":"quantitative","axis":null},"y":{"field":"y","type":"quantitative","axis":null},"text":{"field":"t"}}},
{"data":{"name":"T"},"transform":[{"filter":"datum.p=='Dc'&&datum.k=='lab'"}],"mark":{"type":"text","font":"Liberation Sans","fontSize":15,"align":"left","baseline":"middle"},"encoding":{"x":{"field":"x","type":"quantitative","axis":null},"y":{"field":"y","type":"quantitative","axis":null},"text":{"field":"t"}}},
{"data":{"name":"T"},"transform":[{"filter":"datum.p=='Dc'&&datum.k=='tt'"}],"mark":{"type":"text","font":"Liberation Sans","fontStyle":"italic","fontSize":16,"align":"left","baseline":"middle"},"encoding":{"x":{"field":"x","type":"quantitative","axis":null},"y":{"field":"y","type":"quantitative","axis":null},"text":{"field":"t"}}},
{"data":{"name":"T"},"transform":[{"filter":"datum.p=='Dc'&&datum.k=='sub'"}],"mark":{"type":"text","font":"Liberation Sans","fontSize":10.5,"align":"left","baseline":"middle"},"encoding":{"x":{"field":"x","type":"quantitative","axis":null},"y":{"field":"y","type":"quantitative","axis":null},"text":{"field":"t"}}},
{"data":{"name":"T"},"transform":[{"filter":"datum.p=='Dc'&&datum.k=='hh'"}],"mark":{"type":"text","font":"Liberation Sans","fontStyle":"italic","fontSize":21,"align":"right","baseline":"middle"},"encoding":{"x":{"field":"x","type":"quantitative","axis":null},"y":{"field":"y","type":"quantitative","axis":null},"text":{"field":"t"}}}
],"resolve":{"axis":{"x":"independent","y":"independent"}}},
{"width":272.5,"height":219,
"layer":[
{"data":{"name":"L"},"transform":[{"filter":"datum.p=='Gc'&&datum.s!='pt'"}],"mark":{"type":"line","color":"black","strokeWidth":1.6},"encoding":{"x":{"field":"x","type":"quantitative","scale":{"domain":[0,9.2],"nice":false,"zero":false},"axis":{"orient":"bottom","values":[0,1,2,3,4,5,6,7,8,9],"labelExpr":"datum.value%2==0?datum.label:''","title":"Magnetic Field (T)"}},"y":{"field":"y","type":"quantitative","scale":{"domain":[0,55],"nice":false,"zero":false},"axis":{"orient":"left","values":[0,5,10,15,20,25,30,35,40,45,50],"labelExpr":"datum.value%10==0&&datum.value>0?datum.label:''","title":"Temperature (K)"}},"detail":{"field":"s"},"order":{"value":null}}},
{"data":{"name":"L"},"transform":[{"filter":"datum.p=='Gc'&&datum.m!='n'"}],"mark":{"type":"point","filled":true,"stroke":"black","strokeWidth":1.1,"size":55,"opacity":1},"encoding":{"x":{"field":"x","type":"quantitative","scale":{"domain":[0,9.2],"nice":false,"zero":false},"axis":{"orient":"top","values":[0,1,2,3,4,5,6,7,8,9],"labels":false,"title":null}},"y":{"field":"y","type":"quantitative","scale":{"domain":[0,55],"nice":false,"zero":false},"axis":{"orient":"right","values":[0,5,10,15,20,25,30,35,40,45,50],"labels":false,"title":null}},"shape":{"field":"m","type":"nominal","scale":{"domain":["c","t","d","oc","ot","od"],"range":["circle","triangle-up","diamond","circle","triangle-up","diamond"]},"legend":null},"fill":{"field":"m","type":"nominal","scale":{"domain":["c","t","d","oc","ot","od"],"range":["#000000","#000000","#000000","#ffffff","#ffffff","#ffffff"]},"legend":null}}},
{"data":{"name":"T"},"transform":[{"filter":"datum.p=='Gc'&&datum.k=='ph'"}],"mark":{"type":"text","font":"Liberation Serif","fontStyle":"italic","fontSize":14.5,"align":"center","baseline":"middle"},"encoding":{"x":{"field":"x","type":"quantitative","axis":null},"y":{"field":"y","type":"quantitative","axis":null},"text":{"field":"t"}}},
{"data":{"name":"T"},"transform":[{"filter":"datum.p=='Gc'&&datum.k=='rm'"}],"mark":{"type":"text","font":"Liberation Serif","fontSize":14.5,"align":"center","baseline":"middle"},"encoding":{"x":{"field":"x","type":"quantitative","axis":null},"y":{"field":"y","type":"quantitative","axis":null},"text":{"field":"t"}}},
{"data":{"name":"T"},"transform":[{"filter":"datum.p=='Gc'&&datum.k=='lab'"}],"mark":{"type":"text","font":"Liberation Sans","fontSize":15,"align":"left","baseline":"middle"},"encoding":{"x":{"field":"x","type":"quantitative","axis":null},"y":{"field":"y","type":"quantitative","axis":null},"text":{"field":"t"}}},
{"data":{"name":"T"},"transform":[{"filter":"datum.p=='Gc'&&datum.k=='tt'"}],"mark":{"type":"text","font":"Liberation Sans","fontStyle":"italic","fontSize":16,"align":"left","baseline":"middle"},"encoding":{"x":{"field":"x","type":"quantitative","axis":null},"y":{"field":"y","type":"quantitative","axis":null},"text":{"field":"t"}}},
{"data":{"name":"T"},"transform":[{"filter":"datum.p=='Gc'&&datum.k=='sub'"}],"mark":{"type":"text","font":"Liberation Sans","fontSize":10.5,"align":"left","baseline":"middle"},"encoding":{"x":{"field":"x","type":"quantitative","axis":null},"y":{"field":"y","type":"quantitative","axis":null},"text":{"field":"t"}}},
{"data":{"name":"T"},"transform":[{"filter":"datum.p=='Gc'&&datum.k=='hh'"}],"mark":{"type":"text","font":"Liberation Sans","fontStyle":"italic","fontSize":21,"align":"right","baseline":"middle"},"encoding":{"x":{"field":"x","type":"quantitative","axis":null},"y":{"field":"y","type":"quantitative","axis":null},"text":{"field":"t"}}}
],"resolve":{"axis":{"x":"independent","y":"independent"}}}
],
"columns":3,
"spacing":{"row":11,"column":86.5},
"bounds":"flush",
"align":"each",
"config":{
"view":{"stroke":"black","strokeWidth":1.5},
"mark":{"color":"black"},
"axis":{"grid":false,"domain":false,"tickColor":"black","tickWidth":1.2,"tickSize":-5,"labelFont":"Liberation Sans","labelFontSize":17,"labelColor":"black","labelPadding":10,"labelFlush":false,"labelOverlap":false,"titleFont":"Liberation Sans","titleFontSize":17,"titleFontWeight":"normal","titleColor":"black","titlePadding":1},
"title":{"font":"Liberation Sans","fontSize":22,"fontWeight":"normal","color":"black","offset":3,"anchor":"middle"}
}
}
